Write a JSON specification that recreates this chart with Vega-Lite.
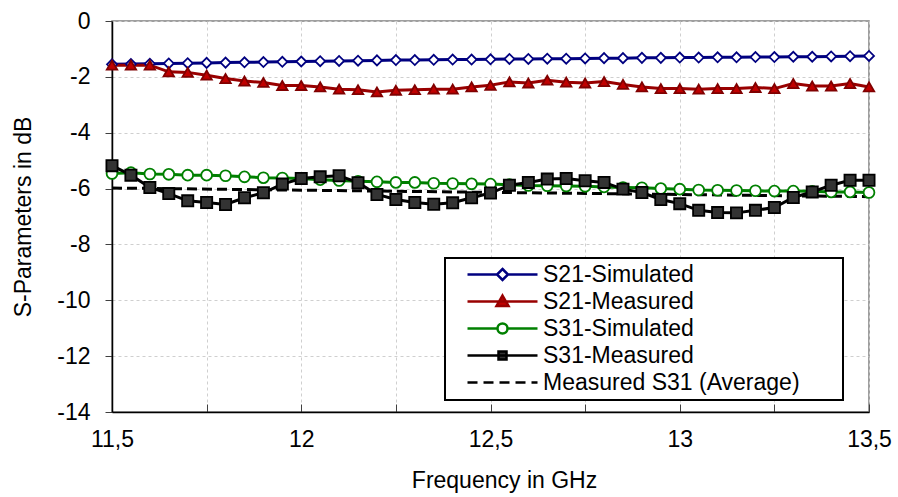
{
  "$schema": "https://vega.github.io/schema/vega-lite/v6.json",
  "width": 757,
  "height": 391,
  "autosize": {"type": "none"},
  "padding": {"left": 112, "top": 21, "right": 29, "bottom": 85},
  "background": "white",
  "config": {
    "view": {"stroke": "#808080", "strokeWidth": 1.5},
    "legend": {"strokeWidth": 2},
    "axis": {
      "labelFont": "Liberation Sans",
      "labelFontSize": 23,
      "labelColor": "black",
      "titleFont": "Liberation Sans",
      "titleFontSize": 23,
      "titleFontWeight": "normal",
      "titleColor": "black",
      "domainColor": "black",
      "domainWidth": 1.5,
      "gridColor": "#cfcfcf",
      "gridDash": [3, 3],
      "gridWidth": 1,
      "tickColor": "#404040",
      "tickWidth": 1
    }
  },
  "datasets": {
    "series": [
      {"f":11.5,"s":"S21-Simulated","v":-1.55},{"f":11.55,"s":"S21-Simulated","v":-1.54},{"f":11.6,"s":"S21-Simulated","v":-1.53},{"f":11.65,"s":"S21-Simulated","v":-1.52},{"f":11.7,"s":"S21-Simulated","v":-1.51},{"f":11.75,"s":"S21-Simulated","v":-1.50},{"f":11.8,"s":"S21-Simulated","v":-1.49},{"f":11.85,"s":"S21-Simulated","v":-1.48},{"f":11.9,"s":"S21-Simulated","v":-1.47},{"f":11.95,"s":"S21-Simulated","v":-1.46},{"f":12.0,"s":"S21-Simulated","v":-1.45},{"f":12.05,"s":"S21-Simulated","v":-1.44},{"f":12.1,"s":"S21-Simulated","v":-1.43},{"f":12.15,"s":"S21-Simulated","v":-1.42},{"f":12.2,"s":"S21-Simulated","v":-1.41},{"f":12.25,"s":"S21-Simulated","v":-1.40},{"f":12.3,"s":"S21-Simulated","v":-1.40},{"f":12.35,"s":"S21-Simulated","v":-1.39},{"f":12.4,"s":"S21-Simulated","v":-1.38},{"f":12.45,"s":"S21-Simulated","v":-1.38},{"f":12.5,"s":"S21-Simulated","v":-1.37},{"f":12.55,"s":"S21-Simulated","v":-1.36},{"f":12.6,"s":"S21-Simulated","v":-1.36},{"f":12.65,"s":"S21-Simulated","v":-1.35},{"f":12.7,"s":"S21-Simulated","v":-1.35},{"f":12.75,"s":"S21-Simulated","v":-1.34},{"f":12.8,"s":"S21-Simulated","v":-1.33},{"f":12.85,"s":"S21-Simulated","v":-1.33},{"f":12.9,"s":"S21-Simulated","v":-1.32},{"f":12.95,"s":"S21-Simulated","v":-1.32},{"f":13.0,"s":"S21-Simulated","v":-1.31},{"f":13.05,"s":"S21-Simulated","v":-1.31},{"f":13.1,"s":"S21-Simulated","v":-1.30},{"f":13.15,"s":"S21-Simulated","v":-1.30},{"f":13.2,"s":"S21-Simulated","v":-1.29},{"f":13.25,"s":"S21-Simulated","v":-1.29},{"f":13.3,"s":"S21-Simulated","v":-1.28},{"f":13.35,"s":"S21-Simulated","v":-1.28},{"f":13.4,"s":"S21-Simulated","v":-1.27},{"f":13.45,"s":"S21-Simulated","v":-1.26},{"f":13.5,"s":"S21-Simulated","v":-1.25},
      {"f":11.5,"s":"S21-Measured","v":-1.58},{"f":11.55,"s":"S21-Measured","v":-1.58},{"f":11.6,"s":"S21-Measured","v":-1.58},{"f":11.65,"s":"S21-Measured","v":-1.82},{"f":11.7,"s":"S21-Measured","v":-1.84},{"f":11.75,"s":"S21-Measured","v":-1.94},{"f":11.8,"s":"S21-Measured","v":-2.06},{"f":11.85,"s":"S21-Measured","v":-2.15},{"f":11.9,"s":"S21-Measured","v":-2.20},{"f":11.95,"s":"S21-Measured","v":-2.31},{"f":12.0,"s":"S21-Measured","v":-2.31},{"f":12.05,"s":"S21-Measured","v":-2.36},{"f":12.1,"s":"S21-Measured","v":-2.44},{"f":12.15,"s":"S21-Measured","v":-2.46},{"f":12.2,"s":"S21-Measured","v":-2.54},{"f":12.25,"s":"S21-Measured","v":-2.48},{"f":12.3,"s":"S21-Measured","v":-2.46},{"f":12.35,"s":"S21-Measured","v":-2.44},{"f":12.4,"s":"S21-Measured","v":-2.44},{"f":12.45,"s":"S21-Measured","v":-2.36},{"f":12.5,"s":"S21-Measured","v":-2.30},{"f":12.55,"s":"S21-Measured","v":-2.18},{"f":12.6,"s":"S21-Measured","v":-2.22},{"f":12.65,"s":"S21-Measured","v":-2.12},{"f":12.7,"s":"S21-Measured","v":-2.19},{"f":12.75,"s":"S21-Measured","v":-2.22},{"f":12.8,"s":"S21-Measured","v":-2.17},{"f":12.85,"s":"S21-Measured","v":-2.27},{"f":12.9,"s":"S21-Measured","v":-2.36},{"f":12.95,"s":"S21-Measured","v":-2.42},{"f":13.0,"s":"S21-Measured","v":-2.42},{"f":13.05,"s":"S21-Measured","v":-2.44},{"f":13.1,"s":"S21-Measured","v":-2.42},{"f":13.15,"s":"S21-Measured","v":-2.42},{"f":13.2,"s":"S21-Measured","v":-2.38},{"f":13.25,"s":"S21-Measured","v":-2.42},{"f":13.3,"s":"S21-Measured","v":-2.24},{"f":13.35,"s":"S21-Measured","v":-2.33},{"f":13.4,"s":"S21-Measured","v":-2.33},{"f":13.45,"s":"S21-Measured","v":-2.24},{"f":13.5,"s":"S21-Measured","v":-2.36},
      {"f":11.5,"s":"S31-Simulated","v":-5.46},{"f":11.55,"s":"S31-Simulated","v":-5.43},{"f":11.6,"s":"S31-Simulated","v":-5.48},{"f":11.65,"s":"S31-Simulated","v":-5.49},{"f":11.7,"s":"S31-Simulated","v":-5.52},{"f":11.75,"s":"S31-Simulated","v":-5.52},{"f":11.8,"s":"S31-Simulated","v":-5.54},{"f":11.85,"s":"S31-Simulated","v":-5.58},{"f":11.9,"s":"S31-Simulated","v":-5.61},{"f":11.95,"s":"S31-Simulated","v":-5.62},{"f":12.0,"s":"S31-Simulated","v":-5.64},{"f":12.05,"s":"S31-Simulated","v":-5.68},{"f":12.1,"s":"S31-Simulated","v":-5.71},{"f":12.15,"s":"S31-Simulated","v":-5.74},{"f":12.2,"s":"S31-Simulated","v":-5.76},{"f":12.25,"s":"S31-Simulated","v":-5.78},{"f":12.3,"s":"S31-Simulated","v":-5.78},{"f":12.35,"s":"S31-Simulated","v":-5.81},{"f":12.4,"s":"S31-Simulated","v":-5.82},{"f":12.45,"s":"S31-Simulated","v":-5.83},{"f":12.5,"s":"S31-Simulated","v":-5.84},{"f":12.55,"s":"S31-Simulated","v":-5.86},{"f":12.6,"s":"S31-Simulated","v":-5.89},{"f":12.65,"s":"S31-Simulated","v":-5.90},{"f":12.7,"s":"S31-Simulated","v":-5.91},{"f":12.75,"s":"S31-Simulated","v":-5.92},{"f":12.8,"s":"S31-Simulated","v":-5.94},{"f":12.85,"s":"S31-Simulated","v":-5.96},{"f":12.9,"s":"S31-Simulated","v":-5.97},{"f":12.95,"s":"S31-Simulated","v":-6.00},{"f":13.0,"s":"S31-Simulated","v":-6.02},{"f":13.05,"s":"S31-Simulated","v":-6.05},{"f":13.1,"s":"S31-Simulated","v":-6.06},{"f":13.15,"s":"S31-Simulated","v":-6.07},{"f":13.2,"s":"S31-Simulated","v":-6.08},{"f":13.25,"s":"S31-Simulated","v":-6.09},{"f":13.3,"s":"S31-Simulated","v":-6.09},{"f":13.35,"s":"S31-Simulated","v":-6.10},{"f":13.4,"s":"S31-Simulated","v":-6.12},{"f":13.45,"s":"S31-Simulated","v":-6.12},{"f":13.5,"s":"S31-Simulated","v":-6.14},
      {"f":11.5,"s":"S31-Measured","v":-5.18},{"f":11.55,"s":"S31-Measured","v":-5.52},{"f":11.6,"s":"S31-Measured","v":-5.96},{"f":11.65,"s":"S31-Measured","v":-6.18},{"f":11.7,"s":"S31-Measured","v":-6.44},{"f":11.75,"s":"S31-Measured","v":-6.50},{"f":11.8,"s":"S31-Measured","v":-6.57},{"f":11.85,"s":"S31-Measured","v":-6.33},{"f":11.9,"s":"S31-Measured","v":-6.15},{"f":11.95,"s":"S31-Measured","v":-5.84},{"f":12.0,"s":"S31-Measured","v":-5.64},{"f":12.05,"s":"S31-Measured","v":-5.58},{"f":12.1,"s":"S31-Measured","v":-5.54},{"f":12.15,"s":"S31-Measured","v":-5.79},{"f":12.2,"s":"S31-Measured","v":-6.21},{"f":12.25,"s":"S31-Measured","v":-6.39},{"f":12.3,"s":"S31-Measured","v":-6.50},{"f":12.35,"s":"S31-Measured","v":-6.56},{"f":12.4,"s":"S31-Measured","v":-6.51},{"f":12.45,"s":"S31-Measured","v":-6.33},{"f":12.5,"s":"S31-Measured","v":-6.16},{"f":12.55,"s":"S31-Measured","v":-5.88},{"f":12.6,"s":"S31-Measured","v":-5.78},{"f":12.65,"s":"S31-Measured","v":-5.66},{"f":12.7,"s":"S31-Measured","v":-5.64},{"f":12.75,"s":"S31-Measured","v":-5.72},{"f":12.8,"s":"S31-Measured","v":-5.78},{"f":12.85,"s":"S31-Measured","v":-6.02},{"f":12.9,"s":"S31-Measured","v":-6.14},{"f":12.95,"s":"S31-Measured","v":-6.39},{"f":13.0,"s":"S31-Measured","v":-6.54},{"f":13.05,"s":"S31-Measured","v":-6.78},{"f":13.1,"s":"S31-Measured","v":-6.86},{"f":13.15,"s":"S31-Measured","v":-6.87},{"f":13.2,"s":"S31-Measured","v":-6.78},{"f":13.25,"s":"S31-Measured","v":-6.68},{"f":13.3,"s":"S31-Measured","v":-6.32},{"f":13.35,"s":"S31-Measured","v":-6.12},{"f":13.4,"s":"S31-Measured","v":-5.88},{"f":13.45,"s":"S31-Measured","v":-5.70},{"f":13.5,"s":"S31-Measured","v":-5.70},
      {"f":11.5,"s":"Measured S31 (Average)","v":-5.98},{"f":13.5,"s":"Measured S31 (Average)","v":-6.29}
    ],
    "names": [
      {"s":"S21-Simulated"},{"s":"S21-Measured"},{"s":"S31-Simulated"},{"s":"S31-Measured"},{"s":"Measured S31 (Average)"}
    ]
  },
  "resolve": {"scale": {"shape": "independent", "fill": "independent", "stroke": "independent", "size": "independent"}},
  "layer": [
    {
      "data": {"name": "series"},
      "transform": [{"filter": "datum.s == 'Measured S31 (Average)'"}],
      "mark": {"type": "line", "strokeWidth": 3, "strokeDash": [10, 5], "color": "black"},
      "encoding": {
        "x": {
          "field": "f", "type": "quantitative",
          "scale": {"domain": [11.5, 13.5], "nice": false, "zero": false},
          "axis": {
            "values": [11.5, 11.75, 12, 12.25, 12.5, 12.75, 13, 13.25, 13.5],
            "grid": true,
            "tickSize": -8,
            "labelPadding": 24,
            "labelExpr": "(datum.value * 2) % 1 == 0 ? replace('' + datum.value, '.', ',') : ''",
            "labelFlush": false,
            "title": "Frequency in GHz",
            "titleX": 392,
            "titleY": 68,
            "titleBaseline": "middle",
            "titleAlign": "center"
          }
        },
        "y": {
          "field": "v", "type": "quantitative",
          "scale": {"domain": [-14, 0], "nice": false, "zero": false},
          "axis": {
            "values": [-14, -12, -10, -8, -6, -4, -2, 0],
            "grid": true,
            "tickSize": 7,
            "labelPadding": 15,
            "labelExpr": "datum.value < 0 ? '-' + abs(datum.value) : '' + datum.value",
            "title": "S-Parameters in dB",
            "titleX": -89,
            "titleBaseline": "middle",
            "titleAngle": -90
          }
        }
      }
    },
    {
      "data": {"name": "series"},
      "transform": [{"filter": "datum.s != 'Measured S31 (Average)'"}],
      "mark": {"type": "line", "strokeWidth": 3},
      "encoding": {
        "x": {"field": "f", "type": "quantitative"},
        "y": {"field": "v", "type": "quantitative"},
        "color": {
          "field": "s", "type": "nominal",
          "scale": {
            "domain": ["S21-Simulated", "S21-Measured", "S31-Simulated", "S31-Measured"],
            "range": ["#000080", "#990000", "#008000", "#000000"]
          },
          "legend": null
        }
      }
    },
    {
      "data": {"name": "series"},
      "transform": [{"filter": "datum.s != 'Measured S31 (Average)'"}],
      "mark": {"type": "point", "filled": true, "opacity": 1, "strokeWidth": 1.8},
      "encoding": {
        "x": {"field": "f", "type": "quantitative"},
        "y": {"field": "v", "type": "quantitative"},
        "shape": {
          "field": "s", "type": "nominal",
          "scale": {"domain": ["S21-Simulated", "S21-Measured", "S31-Simulated", "S31-Measured"], "range": ["diamond", "triangle-up", "circle", "square"]},
          "legend": null
        },
        "fill": {
          "field": "s", "type": "nominal",
          "scale": {"domain": ["S21-Simulated", "S21-Measured", "S31-Simulated", "S31-Measured"], "range": ["#ffffff", "#c00000", "#ffffff", "#333333"]},
          "legend": null
        },
        "stroke": {
          "field": "s", "type": "nominal",
          "scale": {"domain": ["S21-Simulated", "S21-Measured", "S31-Simulated", "S31-Measured"], "range": ["#000080", "#800000", "#008000", "#000000"]},
          "legend": null
        },
        "size": {
          "field": "s", "type": "nominal",
          "scale": {"domain": ["S21-Simulated", "S21-Measured", "S31-Simulated", "S31-Measured"], "range": [100, 125, 85, 60]},
          "legend": null
        }
      }
    },
    {
      "data": {"name": "names"},
      "transform": [{"filter": "false"}],
      "mark": {"type": "point", "filled": true, "opacity": 1, "size": 400, "strokeWidth": 2.5},
      "encoding": {
        "x": {"field": "f", "type": "quantitative"},
        "y": {"field": "v", "type": "quantitative"},
        "shape": {
          "field": "s", "type": "nominal",
          "scale": {
            "domain": ["S21-Simulated", "S21-Measured", "S31-Simulated", "S31-Measured", "Measured S31 (Average)"],
            "range": [
              "M-3.5,0H-0.55M0.55,0H3.5M0,-0.55L0.55,0L0,0.55L-0.55,0Z",
              "M-3.5,0H3.5M0,-0.6L0.6,0.45L-0.6,0.45Z",
              "M-3.5,0H-0.5M0.5,0H3.5M0.5,0A0.5,0.5,0,1,1,-0.5,0A0.5,0.5,0,1,1,0.5,0Z",
              "M-3.5,0H3.5M-0.4,-0.4H0.4V0.4H-0.4Z",
              "M-3.5,0H-2.5M-1.9,0H-0.9M-0.3,0H0.7M1.3,0H2.3M2.9,0H3.5"
            ]
          },
          "legend": {
            "title": " ",
            "titleOrient": "right",
            "titlePadding": 38,
            "titleFontSize": 8,
            "orient": "none",
            "legendX": 333,
            "legendY": 237,
            "padding": 5,
            "strokeColor": "black",
            "fillColor": "white",
            "labelFont": "Liberation Sans",
            "labelFontSize": 23,
            "labelColor": "black",
            "labelLimit": 600,
            "symbolSize": 400,
            "symbolStrokeWidth": 2.5,
            "symbolOffset": 41,
            "labelOffset": 29,
            "rowPadding": 3
          }
        },
        "fill": {
          "field": "s", "type": "nominal",
          "scale": {
            "domain": ["S21-Simulated", "S21-Measured", "S31-Simulated", "S31-Measured", "Measured S31 (Average)"],
            "range": ["#ffffff", "#c00000", "#ffffff", "#333333", "transparent"]
          }
        },
        "stroke": {
          "field": "s", "type": "nominal",
          "scale": {
            "domain": ["S21-Simulated", "S21-Measured", "S31-Simulated", "S31-Measured", "Measured S31 (Average)"],
            "range": ["#000080", "#990000", "#008000", "#000000", "#000000"]
          }
        }
      }
    }
  ]
}
